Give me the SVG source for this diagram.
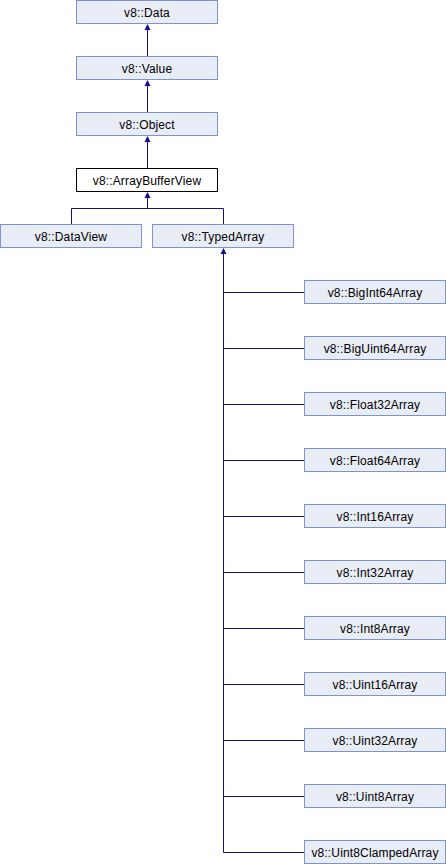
<svg xmlns="http://www.w3.org/2000/svg" width="446" height="864" viewBox="0 0 446 864">
<defs>
<style>
.n rect{fill:#E8ECF5;stroke:#7E93CA;stroke-width:1}
.n.cur rect{fill:#FFFFFF;stroke:#000000}
.n text{font-family:"Liberation Sans",Arial,sans-serif;font-size:12px;fill:#000;text-anchor:middle;letter-spacing:0.15px}
.e{fill:none;stroke:#10108A;stroke-width:1}
.h{fill:#10108A;stroke:none}
</style>
</defs>
<rect width="446" height="864" fill="#fff"/>
<g id="connectors">
<path class="e" d="M147.5,30 V56"/><path class="h" d="M147.5,24 L150.5,30 L144.5,30 Z"/>
<path class="e" d="M147.5,86 V112"/><path class="h" d="M147.5,80 L150.5,86 L144.5,86 Z"/>
<path class="e" d="M147.5,142 V168"/><path class="h" d="M147.5,136 L150.5,142 L144.5,142 Z"/>
<path class="e" d="M147.5,198 V208.5 M71.5,224 V208.5 H223.5 V224"/><path class="h" d="M147.5,192 L150.5,198 L144.5,198 Z"/>
<path class="e" d="M223.5,254 V852.5 H304"/><path class="h" d="M223.5,248 L226.5,254 L220.5,254 Z"/>
<path class="e" d="M223.5,292.5 H304 M223.5,348.5 H304 M223.5,404.5 H304 M223.5,460.5 H304 M223.5,516.5 H304 M223.5,572.5 H304 M223.5,628.5 H304 M223.5,684.5 H304 M223.5,740.5 H304 M223.5,796.5 H304"/>
</g>
<g id="data" class="n"><rect x="76.5" y="0.5" width="141" height="23"/><text x="147" y="16.5">v8::Data</text></g>
<g id="value" class="n"><rect x="76.5" y="56.5" width="141" height="23"/><text x="147" y="72.5">v8::Value</text></g>
<g id="object" class="n"><rect x="76.5" y="112.5" width="141" height="23"/><text x="147" y="128.5">v8::Object</text></g>
<g id="arraybufferview" class="n cur"><rect x="76.5" y="168.5" width="141" height="23"/><text x="147" y="184.5">v8::ArrayBufferView</text></g>
<g id="dataview" class="n"><rect x="0.5" y="224.5" width="141" height="23"/><text x="71" y="240.5">v8::DataView</text></g>
<g id="typedarray" class="n"><rect x="152.5" y="224.5" width="141" height="23"/><text x="223" y="240.5">v8::TypedArray</text></g>
<g id="bigint64array" class="n"><rect x="304.5" y="280.5" width="141" height="23"/><text x="375" y="296.5">v8::BigInt64Array</text></g>
<g id="biguint64array" class="n"><rect x="304.5" y="336.5" width="141" height="23"/><text x="375" y="352.5">v8::BigUint64Array</text></g>
<g id="float32array" class="n"><rect x="304.5" y="392.5" width="141" height="23"/><text x="375" y="408.5">v8::Float32Array</text></g>
<g id="float64array" class="n"><rect x="304.5" y="448.5" width="141" height="23"/><text x="375" y="464.5">v8::Float64Array</text></g>
<g id="int16array" class="n"><rect x="304.5" y="504.5" width="141" height="23"/><text x="375" y="520.5">v8::Int16Array</text></g>
<g id="int32array" class="n"><rect x="304.5" y="560.5" width="141" height="23"/><text x="375" y="576.5">v8::Int32Array</text></g>
<g id="int8array" class="n"><rect x="304.5" y="616.5" width="141" height="23"/><text x="375" y="632.5">v8::Int8Array</text></g>
<g id="uint16array" class="n"><rect x="304.5" y="672.5" width="141" height="23"/><text x="375" y="688.5">v8::Uint16Array</text></g>
<g id="uint32array" class="n"><rect x="304.5" y="728.5" width="141" height="23"/><text x="375" y="744.5">v8::Uint32Array</text></g>
<g id="uint8array" class="n"><rect x="304.5" y="784.5" width="141" height="23"/><text x="375" y="800.5">v8::Uint8Array</text></g>
<g id="uint8clampedarray" class="n"><rect x="304.5" y="840.5" width="141" height="23"/><text x="375" y="856.5">v8::Uint8ClampedArray</text></g>
</svg>
